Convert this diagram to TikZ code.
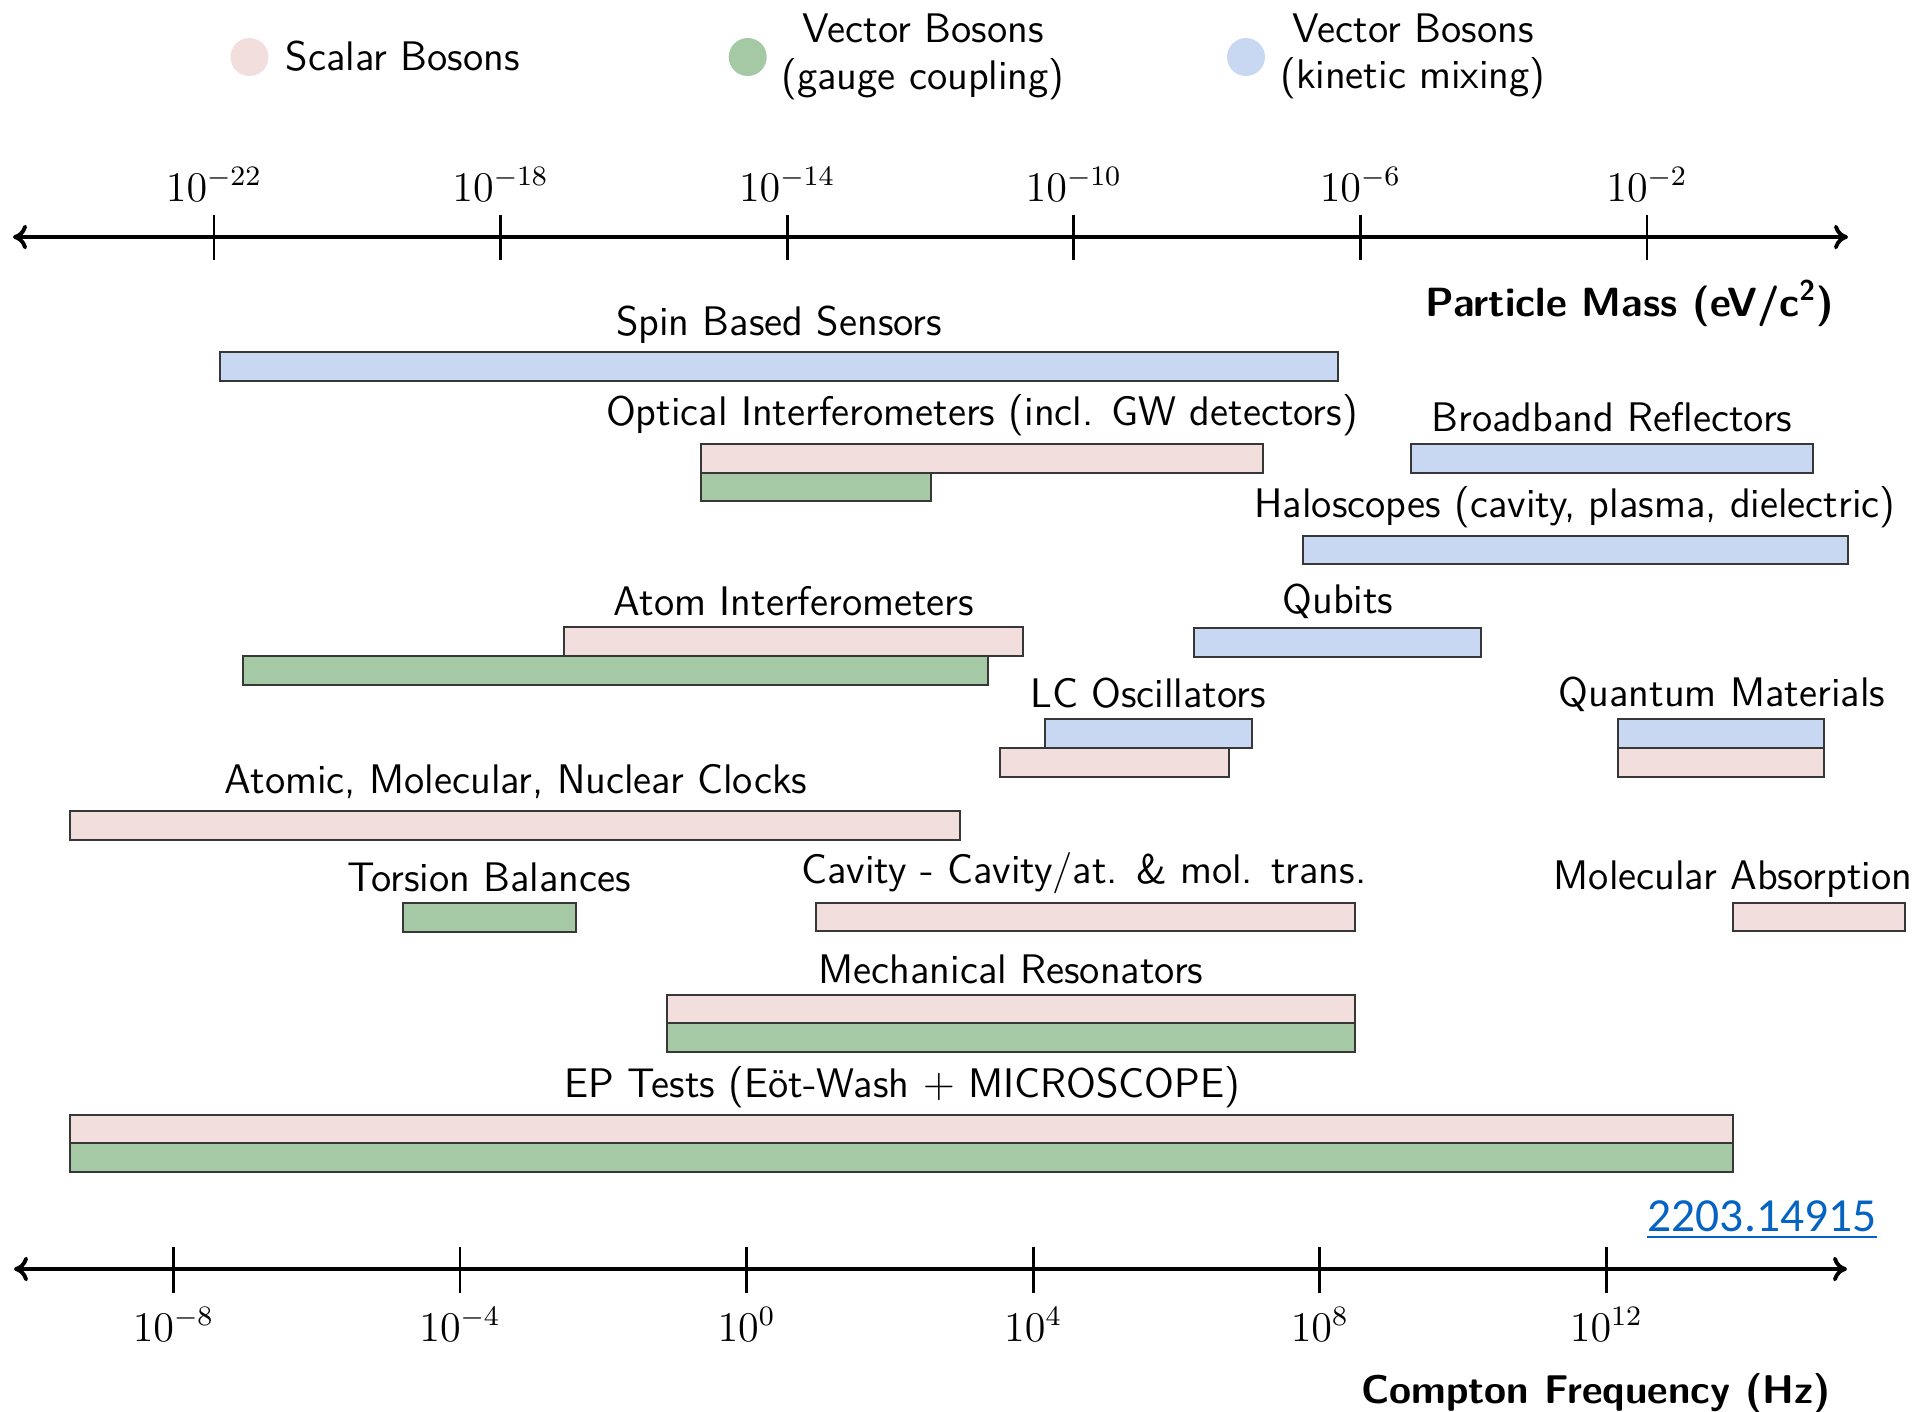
\documentclass[tikz,border=0pt]{standalone}
\usepackage{fontspec}
\newfontfamily\linkfont{Carlito}
\usetikzlibrary{arrows.meta}
\definecolor{scalarc}{RGB}{242,222,220}
\definecolor{gaugec}{RGB}{164,201,164}
\definecolor{kinc}{RGB}{201,216,242}
\definecolor{edgec}{RGB}{55,55,55}
\definecolor{linkc}{RGB}{5,99,193}
\tikzset{
  lbl/.style={font=\sffamily\fontsize{11.75}{13}\selectfont, anchor=base, inner sep=0pt},
  ttl/.style={font=\sffamily\bfseries\fontsize{11.6}{13}\selectfont, anchor=base east, inner sep=0pt},
  ticklbl/.style={font=\fontsize{12}{14}\selectfont, anchor=base, inner sep=0pt},
  sbar/.style={draw=edgec, line width=0.6pt, fill=scalarc},
  gbar/.style={draw=edgec, line width=0.6pt, fill=gaugec},
  kbar/.style={draw=edgec, line width=0.6pt, fill=kinc},
  legdot/.style={circle, inner sep=0pt, minimum size=0.38cm},
  axisline/.style={line width=1.1pt, {To[length=4pt,width=7pt]}-{To[length=4pt,width=7pt]}},
  tickmark/.style={line width=0.8pt},
}
\begin{document}
\begin{tikzpicture}[x=0.01cm, y=-0.01cm]
\useasboundingbox (0,0) rectangle (1914,1411);

% legend
\node[legdot, fill=scalarc] (legS) at (249.5,57) {};
\node[lbl, anchor=base west] (legSt) at (285,70) {Scalar Bosons};
\node[legdot, fill=gaugec] (legG) at (747.7,57) {};
\node[lbl] (legGa) at (923,42) {Vector Bosons};
\node[lbl] (legGb) at (923,89) {(gauge coupling)};
\node[legdot, fill=kinc] (legK) at (1246,57) {};
\node[lbl] (legKa) at (1413,42) {Vector Bosons};
\node[lbl] (legKb) at (1413,88) {(kinetic mixing)};

% top axis
\coordinate (tL) at (13,237);
\coordinate (tR) at (1848,237);
\draw[axisline] (tL) -- (tR);
\foreach \i/\e in {0/-22,1/-18,2/-14,3/-10,4/-6,5/-2}{
  \pgfmathsetmacro{\xx}{214+286.6*\i}
  \coordinate (mtt\i) at (\xx,215);
  \coordinate (mtb\i) at (\xx,260);
  \draw[tickmark] (mtt\i) -- (mtb\i);
  \node[ticklbl] (ml\i) at (\xx,201) {$10^{\e}$};
}
\node[ttl] (masst) at (1835,316) {Particle Mass (eV/c\textsuperscript{2})};

% bottom axis
\coordinate (bL) at (14,1269);
\coordinate (bR) at (1847,1269);
\draw[axisline] (bL) -- (bR);
\foreach \i/\e in {0/-8,1/-4,2/0,3/4,4/8,5/12}{
  \pgfmathsetmacro{\xx}{173.4+286.6*\i}
  \coordinate (ftt\i) at (\xx,1247);
  \coordinate (ftb\i) at (\xx,1293);
  \draw[tickmark] (ftt\i) -- (ftb\i);
  \node[ticklbl] (fl\i) at (\xx,1341) {$10^{\e}$};
}
\node[ttl, font=\sffamily\bfseries\fontsize{11.4}{13}\selectfont] (freqt) at (1831,1403) {Compton Frequency (Hz)};

% link
\node[font=\linkfont\fontsize{13.5}{16}\selectfont, text=linkc, anchor=base east, inner sep=0pt] (link) at (1877,1231) {2203.14915};
\draw[linkc, line width=0.85pt] ([yshift=-1.7pt]link.base west) -- ([yshift=-1.7pt]link.base east);

% Spin Based Sensors
\draw[kbar] (220,352) rectangle (1338,381);
\node[lbl] (spin) at (779,335) {Spin Based Sensors};

% Optical Interferometers
\draw[gbar] (701,473) rectangle (931,501);
\draw[sbar] (701,444) rectangle (1263,473);
\node[lbl] (opt) at (982,425) {Optical Interferometers (incl. GW detectors)};

% Broadband Reflectors
\draw[kbar] (1411,444) rectangle (1813,473);
\node[lbl] (bbr) at (1612,431) {Broadband Reflectors};

% Haloscopes
\draw[kbar] (1303,536) rectangle (1848,564);
\node[lbl] (halo) at (1575,517) {Haloscopes (cavity, plasma, dielectric)};

% Atom Interferometers
\draw[gbar] (243,656) rectangle (988,685);
\draw[sbar] (564,627) rectangle (1023,656);
\node[lbl] (atom) at (794,615) {Atom Interferometers};

% Qubits
\draw[kbar] (1194,628) rectangle (1481,657);
\node[lbl] (qub) at (1338,613) {Qubits};

% LC Oscillators
\draw[sbar] (1000,748) rectangle (1229,777);
\draw[kbar] (1045,719) rectangle (1252,748);
\node[lbl] (lc) at (1148,707) {LC Oscillators};

% Quantum Materials
\draw[sbar] (1618,748) rectangle (1824,777);
\draw[kbar] (1618,719) rectangle (1824,748);
\node[lbl] (qm) at (1722,706) {Quantum Materials};

% Clocks
\draw[sbar] (70,811) rectangle (960,840);
\node[lbl] (clk) at (516,793) {Atomic, Molecular, Nuclear Clocks};

% Torsion Balances
\draw[gbar] (403,903) rectangle (576,932);
\node[lbl] (tor) at (489,891) {Torsion Balances};

% Cavity
\draw[sbar] (816,903) rectangle (1355,931);
\node[lbl] (cav) at (1084,883) {Cavity - Cavity/at. \& mol. trans.};

% Molecular Absorption
\draw[sbar] (1733,903) rectangle (1905,931);
\node[lbl] (mol) at (1733,889) {Molecular Absorption};

% Mechanical Resonators
\draw[gbar] (667,1023) rectangle (1355,1052);
\draw[sbar] (667,995) rectangle (1355,1023);
\node[lbl] (mech) at (1011,983) {Mechanical Resonators};

% EP Tests
\draw[gbar] (70,1143) rectangle (1733,1172);
\draw[sbar] (70,1115) rectangle (1733,1143);
\node[lbl] (ep) at (902,1097) {EP Tests (Eöt-Wash $+$ MICROSCOPE)};
\end{tikzpicture}
\end{document}
